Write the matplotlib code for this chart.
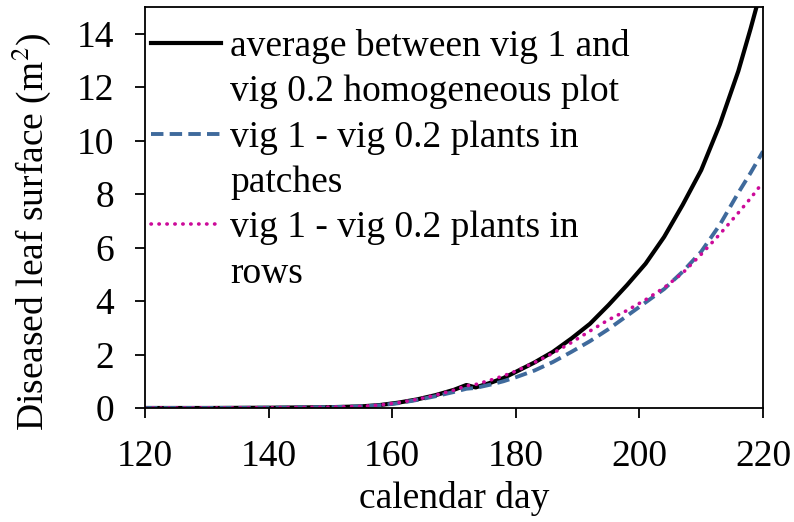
import matplotlib
matplotlib.use("Agg")
import matplotlib.pyplot as plt
from matplotlib.lines import Line2D

plt.rcParams.update({
    "font.family": "Liberation Serif",
    "mathtext.fontset": "stix",
    "font.size": 27,
})

# calendar days
days = [120, 130, 140, 145, 150, 155, 158, 161, 164, 167, 170, 172, 173.5,
        176, 178, 180, 183, 186, 189, 192, 195, 198, 201, 204, 207, 210,
        213, 216, 218, 220]

# diseased leaf surface (m2)
homog = [0.0, 0.0, 0.01, 0.02, 0.03, 0.06, 0.11, 0.2, 0.32, 0.48, 0.68,
         0.86, 0.77, 0.95, 1.12, 1.35, 1.7, 2.1, 2.6, 3.15, 3.85, 4.6, 5.4,
         6.4, 7.6, 8.9, 10.6, 12.6, 14.2, 15.9]
patches = [0.0, 0.0, 0.01, 0.02, 0.03, 0.06, 0.1, 0.18, 0.3, 0.44, 0.6,
           0.72, 0.75, 0.88, 1.0, 1.15, 1.4, 1.72, 2.1, 2.5, 2.95, 3.45,
           3.95, 4.45, 5.1, 5.85, 6.85, 8.05, 8.8, 9.6]
rows = [0.0, 0.0, 0.01, 0.02, 0.03, 0.06, 0.11, 0.2, 0.32, 0.48, 0.67,
        0.83, 0.88, 1.05, 1.2, 1.38, 1.7, 2.05, 2.45, 2.88, 3.3, 3.65, 4.05,
        4.5, 5.05, 5.75, 6.5, 7.3, 7.85, 8.45]

# legend labels, wrapped over two lines each
labels = [
    ("average between vig 1 and", "vig 0.2 homogeneous plot"),
    ("vig 1 - vig 0.2 plants in", "patches"),
    ("vig 1 - vig 0.2 plants in", "rows"),
]

fig = plt.figure(figsize=(7.94, 5.22), dpi=100)
ax = fig.add_axes([0.1826, 0.2184, 0.961 - 0.1826, 0.9866 - 0.2184])

l1, = ax.plot(days, homog, color="black", lw=3)
l2, = ax.plot(days, patches, color="#3F6A9C", lw=2.8,
              linestyle=(0, (3.2, 1.6)))
l3, = ax.plot(days, rows, color="#CC0A99", lw=2.6, linestyle=(0, (0.1, 2.1)),
              dash_capstyle="round")

ax.set_xlim(120, 220)
ax.set_ylim(0, 15)
ax.set_xticks(range(120, 221, 20))
ax.set_yticks(range(0, 15, 2))
ax.tick_params(direction="out", length=7, width=1.3)
ax.tick_params(axis="x", pad=16)
ax.tick_params(axis="y", pad=15)
for sp in ax.spines.values():
    sp.set_linewidth(1.3)

ax.set_xlabel("calendar day", labelpad=5)
ax.set_ylabel("Diseased leaf surface (m$^2$)")
ax.yaxis.set_label_coords(-0.149, 0.44)

# handle on the first line of each entry, blank handle on the second
blank = Line2D([], [], color="none")
handles, texts = [], []
for line, (first, second) in zip([l1, l2, l3], labels):
    handles += [line, blank]
    texts += [first, second]

ax.legend(handles, texts, loc="upper left", bbox_to_anchor=(-0.02, 0.992),
          frameon=False, handlelength=1.85, handletextpad=0.25,
          labelspacing=0.29, borderaxespad=0.1, fontsize=27)

fig.savefig("out.png", dpi=100, facecolor="white")
